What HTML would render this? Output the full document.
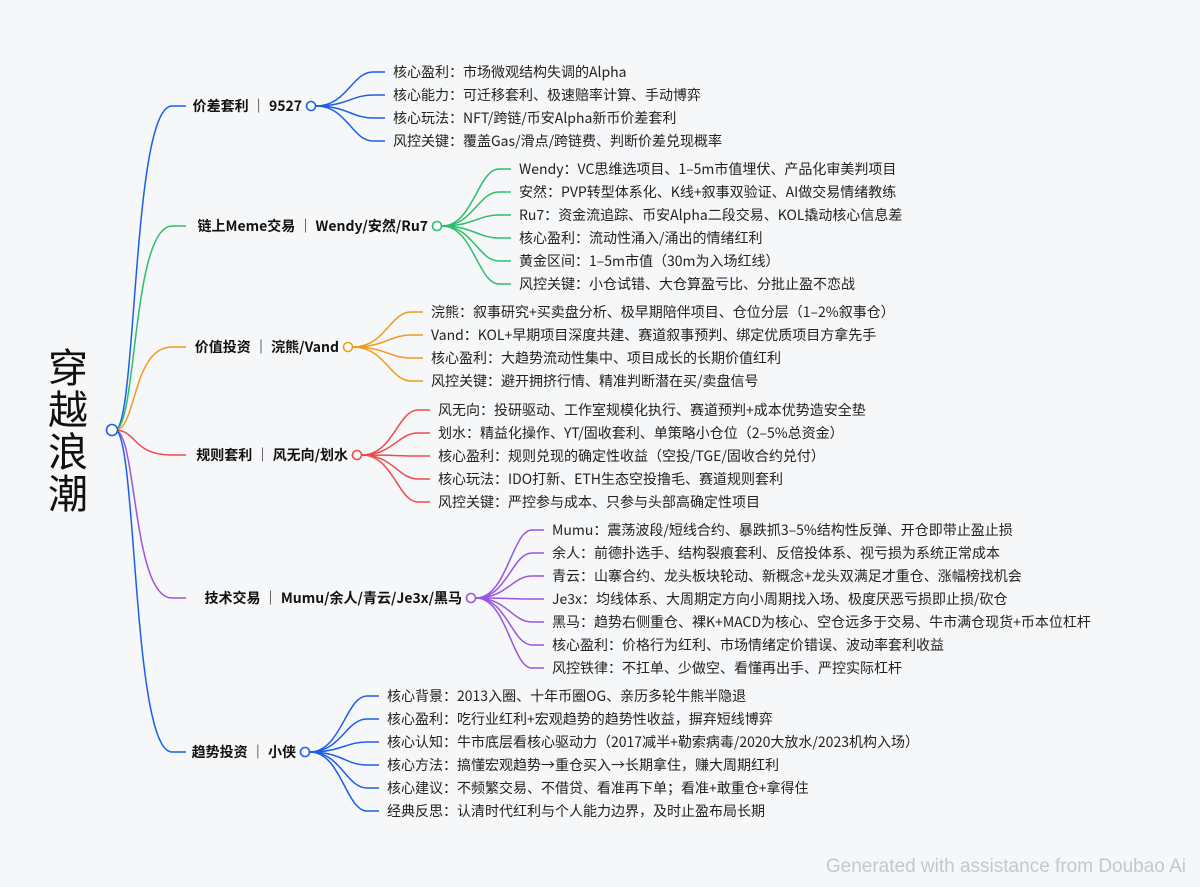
<!DOCTYPE html>
<html><head><meta charset="utf-8"><style>
html,body{margin:0;padding:0;background:#f5f7f9;}
svg{display:block;font-family:"Noto Sans CJK SC","Liberation Sans",sans-serif;}
.l{font-size:14px;fill:#222;}
.b{font-size:14px;font-weight:bold;fill:#111;}
path{fill:none;stroke-width:1.5;}
</style></head><body>
<svg width="1200" height="887" viewBox="0 0 1200 887" xmlns="http://www.w3.org/2000/svg">
<rect width="1200" height="887" fill="#f5f7f9"/>
<g font-size="40" fill="#111" text-anchor="middle">
<text x="68" y="382">穿</text><text x="68" y="424">越</text><text x="68" y="466">浪</text><text x="68" y="508">潮</text>
</g>

<path d="M115,430 C137,430 132,106 172,106 L186,106" stroke="#1d5ee8"/>
<path d="M115,430 C137,430 132,226 172,226 L186,226" stroke="#2cbf6a"/>
<path d="M115,430 C137,430 132,347 172,347 L186,347" stroke="#f39a1e"/>
<path d="M115,430 C137,430 132,455 172,455 L186,455" stroke="#ef4a4a"/>
<path d="M115,430 C137,430 132,598 172,598 L186,598" stroke="#9a55dd"/>
<path d="M115,430 C137,430 132,752 172,752 L186,752" stroke="#1d5ee8"/>

<g stroke="#1d5ee8">
<path d="M316,106 C347,106 352,72 373,72 L385,72"/>
<path d="M316,106 C347,106 352,95 373,95 L385,95"/>
<path d="M316,106 C347,106 352,118 373,118 L385,118"/>
<path d="M316,106 C347,106 352,141 373,141 L385,141"/>
</g>
<text class="b" x="302" y="111" text-anchor="end">价差套利 ｜ 9527</text>
<text class="l" x="393" y="77">核心盈利：市场微观结构失调的Alpha</text>
<text class="l" x="393" y="100">核心能力：可迁移套利、极速赔率计算、手动博弈</text>
<text class="l" x="393" y="123">核心玩法：NFT/跨链/币安Alpha新币价差套利</text>
<text class="l" x="393" y="146">风控关键：覆盖Gas/滑点/跨链费、判断价差兑现概率</text>
<circle cx="311" cy="106" r="4.5" fill="#fff" stroke="#1d5ee8" stroke-width="1.6"/>

<g stroke="#2cbf6a">
<path d="M442,226 C473,226 478,169 499,169 L511,169"/>
<path d="M442,226 C473,226 478,192 499,192 L511,192"/>
<path d="M442,226 C473,226 478,215 499,215 L511,215"/>
<path d="M442,226 C473,226 478,238 499,238 L511,238"/>
<path d="M442,226 C473,226 478,261 499,261 L511,261"/>
<path d="M442,226 C473,226 478,284 499,284 L511,284"/>
</g>
<text class="b" x="428" y="231" text-anchor="end">链上Meme交易 ｜ Wendy/安然/Ru7</text>
<text class="l" x="519" y="174">Wendy：VC思维选项目、1–5m市值埋伏、产品化审美判项目</text>
<text class="l" x="519" y="197">安然：PVP转型体系化、K线+叙事双验证、AI做交易情绪教练</text>
<text class="l" x="519" y="220">Ru7：资金流追踪、币安Alpha二段交易、KOL撬动核心信息差</text>
<text class="l" x="519" y="243">核心盈利：流动性涌入/涌出的情绪红利</text>
<text class="l" x="519" y="266">黄金区间：1–5m市值（30m为入场红线）</text>
<text class="l" x="519" y="289">风控关键：小仓试错、大仓算盈亏比、分批止盈不恋战</text>
<circle cx="437" cy="226" r="4.5" fill="#fff" stroke="#2cbf6a" stroke-width="1.6"/>

<g stroke="#f39a1e">
<path d="M353,347 C385,347 390,312 411,312 L423,312"/>
<path d="M353,347 C385,347 390,335 411,335 L423,335"/>
<path d="M353,347 C385,347 390,358 411,358 L423,358"/>
<path d="M353,347 C385,347 390,381 411,381 L423,381"/>
</g>
<text class="b" x="339" y="352" text-anchor="end">价值投资 ｜ 浣熊/Vand</text>
<text class="l" x="431" y="317">浣熊：叙事研究+买卖盘分析、极早期陪伴项目、仓位分层（1–2%叙事仓）</text>
<text class="l" x="431" y="340">Vand：KOL+早期项目深度共建、赛道叙事预判、绑定优质项目方拿先手</text>
<text class="l" x="431" y="363">核心盈利：大趋势流动性集中、项目成长的长期价值红利</text>
<text class="l" x="431" y="386">风控关键：避开拥挤行情、精准判断潜在买/卖盘信号</text>
<circle cx="348" cy="347" r="4.5" fill="#fff" stroke="#f39a1e" stroke-width="1.6"/>

<g stroke="#ef4a4a">
<path d="M362,455 C393,455 398,410 418,410 L430,410"/>
<path d="M362,455 C393,455 398,433 418,433 L430,433"/>
<path d="M362,455 C393,455 398,456 418,456 L430,456"/>
<path d="M362,455 C393,455 398,479 418,479 L430,479"/>
<path d="M362,455 C393,455 398,502 418,502 L430,502"/>
</g>
<text class="b" x="348" y="460" text-anchor="end">规则套利 ｜ 风无向/划水</text>
<text class="l" x="438" y="415">风无向：投研驱动、工作室规模化执行、赛道预判+成本优势造安全垫</text>
<text class="l" x="438" y="438">划水：精益化操作、YT/固收套利、单策略小仓位（2–5%总资金）</text>
<text class="l" x="438" y="461">核心盈利：规则兑现的确定性收益（空投/TGE/固收合约兑付）</text>
<text class="l" x="438" y="484">核心玩法：IDO打新、ETH生态空投撸毛、赛道规则套利</text>
<text class="l" x="438" y="507">风控关键：严控参与成本、只参与头部高确定性项目</text>
<circle cx="357" cy="455" r="4.5" fill="#fff" stroke="#ef4a4a" stroke-width="1.6"/>

<g stroke="#9a55dd">
<path d="M476,598 C507,598 512,530 532,530 L544,530"/>
<path d="M476,598 C507,598 512,553 532,553 L544,553"/>
<path d="M476,598 C507,598 512,576 532,576 L544,576"/>
<path d="M476,598 C507,598 512,599 532,599 L544,599"/>
<path d="M476,598 C507,598 512,622 532,622 L544,622"/>
<path d="M476,598 C507,598 512,645 532,645 L544,645"/>
<path d="M476,598 C507,598 512,668 532,668 L544,668"/>
</g>
<text class="b" x="462" y="603" text-anchor="end">技术交易 ｜ Mumu/余人/青云/Je3x/黑马</text>
<text class="l" x="552" y="535">Mumu：震荡波段/短线合约、暴跌抓3–5%结构性反弹、开仓即带止盈止损</text>
<text class="l" x="552" y="558">余人：前德扑选手、结构裂痕套利、反倍投体系、视亏损为系统正常成本</text>
<text class="l" x="552" y="581">青云：山寨合约、龙头板块轮动、新概念+龙头双满足才重仓、涨幅榜找机会</text>
<text class="l" x="552" y="604">Je3x：均线体系、大周期定方向小周期找入场、极度厌恶亏损即止损/砍仓</text>
<text class="l" x="552" y="627">黑马：趋势右侧重仓、裸K+MACD为核心、空仓远多于交易、牛市满仓现货+币本位杠杆</text>
<text class="l" x="552" y="650">核心盈利：价格行为红利、市场情绪定价错误、波动率套利收益</text>
<text class="l" x="552" y="673">风控铁律：不扛单、少做空、看懂再出手、严控实际杠杆</text>
<circle cx="471" cy="598" r="4.5" fill="#fff" stroke="#9a55dd" stroke-width="1.6"/>

<g stroke="#1d5ee8">
<path d="M310,752 C341,752 346,696 367,696 L379,696"/>
<path d="M310,752 C341,752 346,719 367,719 L379,719"/>
<path d="M310,752 C341,752 346,742 367,742 L379,742"/>
<path d="M310,752 C341,752 346,765 367,765 L379,765"/>
<path d="M310,752 C341,752 346,788 367,788 L379,788"/>
<path d="M310,752 C341,752 346,811 367,811 L379,811"/>
</g>
<text class="b" x="296" y="757" text-anchor="end">趋势投资 ｜ 小侠</text>
<text class="l" x="387" y="701">核心背景：2013入圈、十年币圈OG、亲历多轮牛熊半隐退</text>
<text class="l" x="387" y="724">核心盈利：吃行业红利+宏观趋势的趋势性收益，摒弃短线博弈</text>
<text class="l" x="387" y="747">核心认知：牛市底层看核心驱动力（2017减半+勒索病毒/2020大放水/2023机构入场）</text>
<text class="l" x="387" y="770">核心方法：搞懂宏观趋势→重仓买入→长期拿住，赚大周期红利</text>
<text class="l" x="387" y="793">核心建议：不频繁交易、不借贷、看准再下单；看准+敢重仓+拿得住</text>
<text class="l" x="387" y="816">经典反思：认清时代红利与个人能力边界，及时止盈布局长期</text>
<circle cx="305" cy="752" r="4.5" fill="#fff" stroke="#1d5ee8" stroke-width="1.6"/>

<circle cx="112" cy="430" r="5.5" fill="#fff" stroke="#1d5ee8" stroke-width="1.6"/>
<text x="1186" y="872" text-anchor="end" font-size="19" fill="#c4c8cc" font-family="Liberation Sans, sans-serif">Generated with assistance from Doubao Ai</text>
</svg>
</body></html>
